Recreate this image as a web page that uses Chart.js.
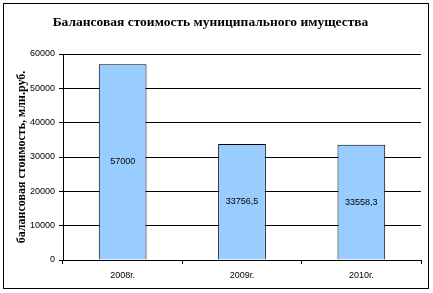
<!DOCTYPE html>
<html>
<head>
<meta charset="utf-8">
<script src="https://cdn.jsdelivr.net/npm/chart.js@4/dist/chart.umd.min.js"></script>
<style>
  html, body { margin: 0; padding: 0; background: #fff; }
  #wrap { width: 433px; height: 293px; }
</style>
</head>
<body>
<div id="wrap"><canvas id="chart" width="433" height="293"></canvas></div>
<script>
// chart data
const years = ['2008г.', '2009г.', '2010г.'];
const values = [57000, 33756.5, 33558.3];
const yTicks = [0, 10000, 20000, 30000, 40000, 50000, 60000];

const chartTitle = 'Балансовая стоимость муниципального имущества';
const yTitle = 'балансовая стоимость, млн.руб.';

// outer frame around the whole chart
const framePlugin = {
  id: 'frame',
  afterDraw(chart) {
    const ctx = chart.ctx;
    ctx.save();
    ctx.strokeStyle = '#000';
    ctx.lineWidth = 1;
    ctx.strokeRect(3.5, 3.5, 425, 285);
    ctx.restore();
  }
};

// value labels in the middle of each bar
const valueLabels = {
  id: 'valueLabels',
  afterDatasetsDraw(chart) {
    const ctx = chart.ctx;
    const meta = chart.getDatasetMeta(0);
    ctx.save();
    ctx.font = '9px "Liberation Sans", Arial, sans-serif';
    ctx.fillStyle = '#000';
    ctx.textAlign = 'center';
    ctx.textBaseline = 'middle';
    meta.data.forEach((bar, i) => {
      const txt = String(values[i]).replace('.', ',');
      ctx.fillText(txt, bar.x, (bar.y + bar.base) / 2);
    });
    ctx.restore();
  }
};

new Chart(document.getElementById('chart'), {
  type: 'bar',
  data: {
    labels: years,
    datasets: [{
      data: values,
      backgroundColor: '#99CCFF',
      borderColor: '#000',
      borderWidth: 1,
      barPercentage: 0.4,
      categoryPercentage: 1.0
    }]
  },
  options: {
    responsive: false,
    animation: false,
    layout: { padding: { left: 0, right: 12, top: 0, bottom: 0 } },
    plugins: {
      legend: { display: false },
      tooltip: { enabled: false },
      title: {
        display: true,
        text: chartTitle,
        color: '#000',
        font: { family: '"Liberation Serif", "Times New Roman", serif', size: 13.5, weight: 'bold', lineHeight: 1.2 },
        padding: { top: 14, bottom: 23.8 }
      }
    },
    scales: {
      x: {
        afterFit(scale) { scale.height = 33; },
        grid: { drawOnChartArea: false, drawTicks: true, tickLength: 4, color: '#000' },
        border: { color: '#000' },
        ticks: { color: '#000', padding: 6, font: { family: '"Liberation Sans", Arial, sans-serif', size: 9 } }
      },
      y: {
        min: 0,
        max: 60000,
        afterFit(scale) { scale.width = 63; },
        afterBuildTicks(scale) { scale.ticks = yTicks.map(v => ({ value: v })); },
        grid: { color: '#000', tickLength: 4 },
        border: { color: '#000' },
        ticks: {
          color: '#000',
          padding: 4,
          font: { family: '"Liberation Sans", Arial, sans-serif', size: 9 },
          callback: v => String(v)
        },
        title: {
          display: true,
          text: yTitle,
          color: '#000',
          font: { family: '"Liberation Serif", "Times New Roman", serif', size: 12, weight: 'bold', lineHeight: 1.2 },
          padding: { top: 15, bottom: 0 }
        }
      }
    }
  },
  plugins: [framePlugin, valueLabels]
});
</script>
</body>
</html>
